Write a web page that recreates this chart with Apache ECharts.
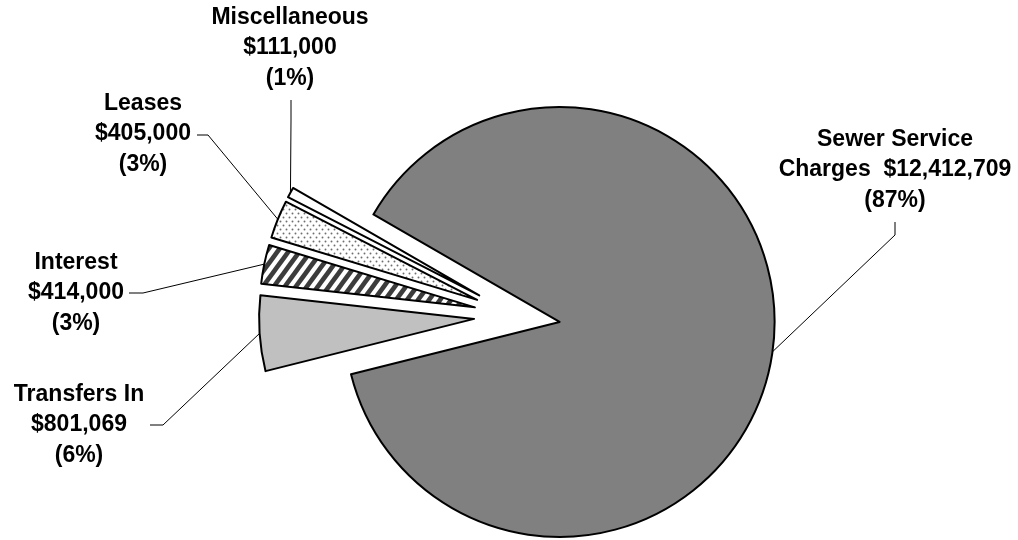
<!DOCTYPE html>
<html><head><meta charset="utf-8">
<script src="https://cdn.jsdelivr.net/npm/echarts@6/dist/echarts.min.js"></script>
<style>html,body{margin:0;padding:0;background:#fff}#c{width:1018px;height:540px}</style>
</head><body><div id="c"></div>
<script>
// ---- data ----
const categories = ['Sewer Service Charges', 'Transfers In', 'Interest', 'Leases', 'Miscellaneous'];
const labelNames = ['Sewer Service\nCharges', 'Transfers In', 'Interest', 'Leases', 'Miscellaneous'];
const values = [12412709, 801069, 414000, 405000, 111000];
const percentLabels = ['87%', '6%', '3%', '3%', '1%'];

// ---- layout / style ----
const PIE_CENTER = [517, 316];
const PIE_R = 215;
const EXPLODE = 43;
const START_ANGLE = 150;
const joiners = ['  ', '\n', '\n', '\n', '\n'];
const labelAnchor = [[895, 170], [79, 425], [76, 293], [143, 134], [290, 48]];
const leaderBends = [
  [[895, 235], [895, 222]],
  [[163, 425], [150, 425]],
  [[143, 293], [129, 293]],
  [[208, 135], [197, 135]],
  [[291, 120], [291, 100]]
];

function makeStripes() {
  const W = 11, H = 15;
  const c = document.createElement('canvas');
  c.width = W; c.height = H;
  const g = c.getContext('2d');
  g.fillStyle = '#fff'; g.fillRect(0, 0, W, H);
  g.strokeStyle = '#3c3c3c'; g.lineWidth = 4.6; g.lineCap = 'butt';
  [-W, 0, W].forEach(function (sx) {
    g.beginPath(); g.moveTo(sx - W * 0.2, H * 1.2); g.lineTo(sx + W * 1.2, -H * 0.2); g.stroke();
  });
  return c;
}
function makeDots() {
  const c = document.createElement('canvas');
  c.width = 6; c.height = 8;
  const g = c.getContext('2d');
  g.fillStyle = '#fff'; g.fillRect(0, 0, 6, 8);
  g.fillStyle = '#6e6e6e';
  [[1.5, 1.5], [4.5, 5.5]].forEach(function (p) {
    g.beginPath(); g.arc(p[0], p[1], 0.95, 0, Math.PI * 2); g.fill();
  });
  return c;
}
const fills = [
  '#808080',
  '#c0c0c0',
  { image: makeStripes(), repeat: 'repeat' },
  { image: makeDots(), repeat: 'repeat' },
  '#ffffff'
];

const total = values.reduce(function (a, b) { return a + b; }, 0);
const midAngles = [];
(function () {
  let a = START_ANGLE;
  values.forEach(function (v) {
    const span = v / total * 360;
    midAngles.push(a - span / 2);
    a -= span;
  });
})();
function dir(i) {
  const rad = midAngles[i] * Math.PI / 180;
  return [Math.cos(rad), -Math.sin(rad)];
}
function sliceCenter(i) {
  const d = dir(i);
  return [PIE_CENTER[0] + EXPLODE * d[0], PIE_CENTER[1] + EXPLODE * d[1]];
}
function edgePoint(i) {
  const d = dir(i), c = sliceCenter(i);
  return [c[0] + PIE_R * d[0], c[1] + PIE_R * d[1]];
}
function money(v) { return '$' + v.toLocaleString('en-US'); }

const labelStyle = {
  color: '#000',
  fontFamily: 'Liberation Sans, Arial, sans-serif',
  fontWeight: 'bold',
  fontSize: 23,
  lineHeight: 30.5,
  align: 'center'
};

// One pie series per exploded slice: each shows only its own slice.
const series = categories.map(function (_, k) {
  return {
    type: 'pie',
    center: sliceCenter(k),
    radius: PIE_R,
    startAngle: START_ANGLE,
    clockwise: true,
    avoidLabelOverlap: false,
    emphasis: { disabled: true },
    silent: true,
    z: 2 + k,
    label: Object.assign({
      show: true,
      formatter: function (p) {
        const i = p.dataIndex;
        return labelNames[i] + joiners[i] + money(values[i]) + '\n(' + percentLabels[i] + ')';
      }
    }, labelStyle),
    labelLine: { show: true, lineStyle: { color: '#000', width: 1 } },
    labelLayout: function (p) {
      const i = p.dataIndex;
      return {
        x: labelAnchor[i][0],
        y: labelAnchor[i][1],
        align: 'center',
        verticalAlign: 'middle',
        labelLinePoints: [edgePoint(i), leaderBends[i][0], leaderBends[i][1]]
      };
    },
    data: categories.map(function (name, i) {
      const own = i === k;
      return {
        name: name,
        value: values[i],
        itemStyle: own
          ? { color: fills[i], borderColor: '#000', borderWidth: 2 }
          : { color: 'rgba(0,0,0,0)', borderWidth: 0 },
        label: { show: own },
        labelLine: { show: own }
      };
    })
  };
});

const chart = echarts.init(document.getElementById('c'), null, { renderer: 'canvas' });
chart.setOption({ animation: false, backgroundColor: '#fff', series: series });
</script>
</body></html>
